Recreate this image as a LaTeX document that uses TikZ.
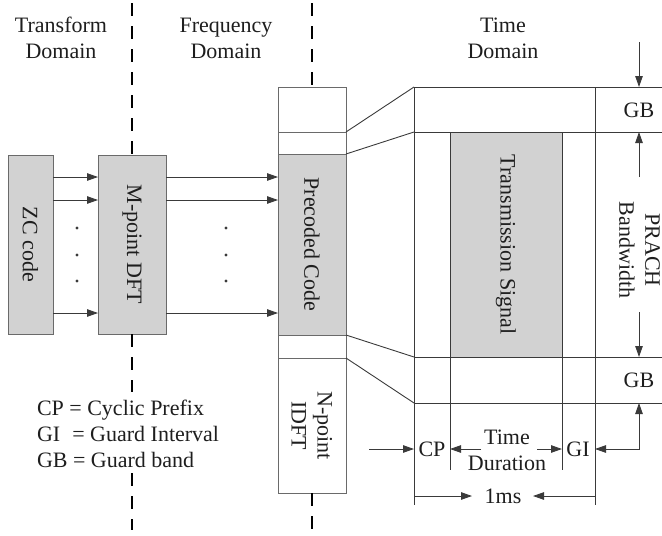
\documentclass[tikz,border=0pt]{standalone}
\usepackage{fontspec}
\setmainfont{Liberation Serif}
\usetikzlibrary{arrows.meta}
\definecolor{boxgray}{HTML}{D2D2D2}
\definecolor{edge}{HTML}{6A6A6A}
\definecolor{ink}{HTML}{3A3A3A}
\definecolor{txt}{HTML}{1E1E1E}

\begin{document}
\begin{tikzpicture}[x=1pt,y=-1pt,
  font=\fontsize{22}{26}\selectfont,
  every node/.style={inner sep=0pt,outer sep=0pt,text=txt},
  blk/.style={draw=edge,line width=0.9pt,rectangle,anchor=north west},
  vtext/.style={rotate=-90,align=center},
  thinline/.style={draw=ink,line width=0.9pt},
  arr/.style={draw=ink,line width=0.9pt,-{Triangle[length=11pt,width=7.5pt]}},
  dblarr/.style={draw=ink,line width=0.9pt,{Triangle[length=11pt,width=7.5pt]}-{Triangle[length=11pt,width=7.5pt]}},
  domline/.style={draw=black,line width=2pt,dash pattern=on 13pt off 10pt}]

\useasboundingbox (0,0) rectangle (662,536);

% domain headings
\node[align=center] (hT) at (61,38) {Transform\\Domain};
\node[align=center] (hF) at (226,38) {Frequency\\Domain};
\node[align=center] (hTi) at (503,38) {Time\\Domain};

% transform / frequency blocks
\node[blk,fill=boxgray,minimum width=45,minimum height=179] (zc) at (8,155) {};
\node[vtext] at (zc.center) {ZC code};
\node[blk,fill=boxgray,minimum width=68,minimum height=179] (dft) at (98,155) {};
\node[vtext] at (dft.center) {M-point DFT};

% precoded column
\node[blk,minimum width=68,minimum height=45] (pc1) at (278,87) {};
\node[blk,minimum width=68,minimum height=22] (pc2) at (278,132) {};
\node[blk,fill=boxgray,minimum width=68,minimum height=181] (pc3) at (278,154) {};
\node[vtext] at (pc3.center) {Precoded Code};
\node[blk,minimum width=68,minimum height=23] (pc4) at (278,335) {};
\node[blk,minimum width=68,minimum height=135] (idft) at (278,358) {};
\node[vtext] at (idft.center) {N-point\\IDFT};

% parallel branches
\coordinate (r1) at (0,177);
\coordinate (r2) at (0,200);
\coordinate (r3) at (0,313);
\foreach \r in {r1,r2,r3} {
  \draw[arr] (zc.east |- \r) -- (dft.west |- \r);
  \draw[arr] (dft.east |- \r) -- (pc3.west |- \r);
}
\foreach \yy in {228,255,281} {
  \fill[ink] (77,\yy) circle (1.7);
  \fill[ink] (226,\yy) circle (1.7);
}

% domain separators
\coordinate (d1top) at (132,3);
\coordinate (d1a) at (132,392);
\coordinate (d1b) at (132,473);
\coordinate (d1c) at (132,530);
\coordinate (d2top) at (312,3);
\coordinate (d2bot) at (312,530);
\draw[domline] (d1top) -- (dft.north);
\draw[domline] (dft.south) -- (d1a);
\draw[domline] (d1b) -- (d1c);
\draw[domline] (d2top) -- (pc1.north);
\draw[domline] (idft.south) -- (d2bot);

% time-domain grid
\coordinate (A0) at (414,87);
\coordinate (A1) at (414,132);
\coordinate (A2) at (414,357);
\coordinate (A3) at (414,403);
\coordinate (R0) at (664,87);
\coordinate (R1) at (664,132);
\coordinate (R2) at (664,357);
\coordinate (R3) at (664,403);
\coordinate (Abot) at (414,505);
\coordinate (D0) at (595,87);
\coordinate (Dbot) at (595,505);
\coordinate (Bbot) at (450,470);
\coordinate (Cbot) at (562,470);

\node[blk,fill=boxgray,minimum width=112,minimum height=225] (tsig) at (450,132) {};
\node[vtext] at (tsig.center) {Transmission Signal};

\draw[thinline] (A0) -- (R0);
\draw[thinline] (A1) -- (R1);
\draw[thinline] (A2) -- (R2);
\draw[thinline] (A3) -- (R3);
\draw[thinline] (A0) -- (Abot);
\draw[thinline] (D0) -- (Dbot);
\draw[thinline] (tsig.north west) -- (Bbot);
\draw[thinline] (tsig.north east) -- (Cbot);

% mapping from precoded column to time grid
\draw[thinline] (pc1.south east) -- (A0);
\draw[thinline] (pc2.south east) -- (A1);
\draw[thinline] (pc3.south east) -- (A2);
\draw[thinline] (pc4.south east) -- (A3);

% guard bands and bandwidth
\node (gb1) at (639,110) {GB};
\node (gb2) at (639,380) {GB};
\node[vtext] (bw) at (639.5,250) {PRACH\\Bandwidth};
\coordinate (gbin) at (639,42);
\coordinate (bwt) at (639,177);
\coordinate (bwb) at (639,312);
\coordinate (G3) at (639,403);
\draw[arr] (gbin) -- (gbin |- A0);
\draw[arr] (bwt) -- (bwt |- A1);
\draw[arr] (bwb) -- (bwb |- A2);

% time labels
\node (cp) at (432,449) {CP};
\node (gi) at (578,449) {GI};
\node[align=center] (td) at (507,450) {Time\\Duration};
\node (ms) at (503,496) {1ms};
\coordinate (cpin) at (369,449);
\coordinate (tdl) at (481,449);
\coordinate (tdr) at (537,449);
\coordinate (msl) at (472,496);
\coordinate (msr) at (533,496);
\draw[arr] (cpin) -- (cpin -| A0);
\draw[arr] (tdl) -- (tdl -| tsig.west);
\draw[arr] (tdr) -- (tdr -| tsig.east);
\draw[dblarr] (D0 |- cpin) -| (G3);
\draw[arr] (Abot |- msl) -- (msl);
\draw[arr] (Dbot |- msr) -- (msr);

% legend
\node[align=left,anchor=west] (legend) at (37,434)
  {CP = Cyclic Prefix\\GI\hspace{0.3em} = Guard Interval\\GB = Guard band};

\end{tikzpicture}
\end{document}
